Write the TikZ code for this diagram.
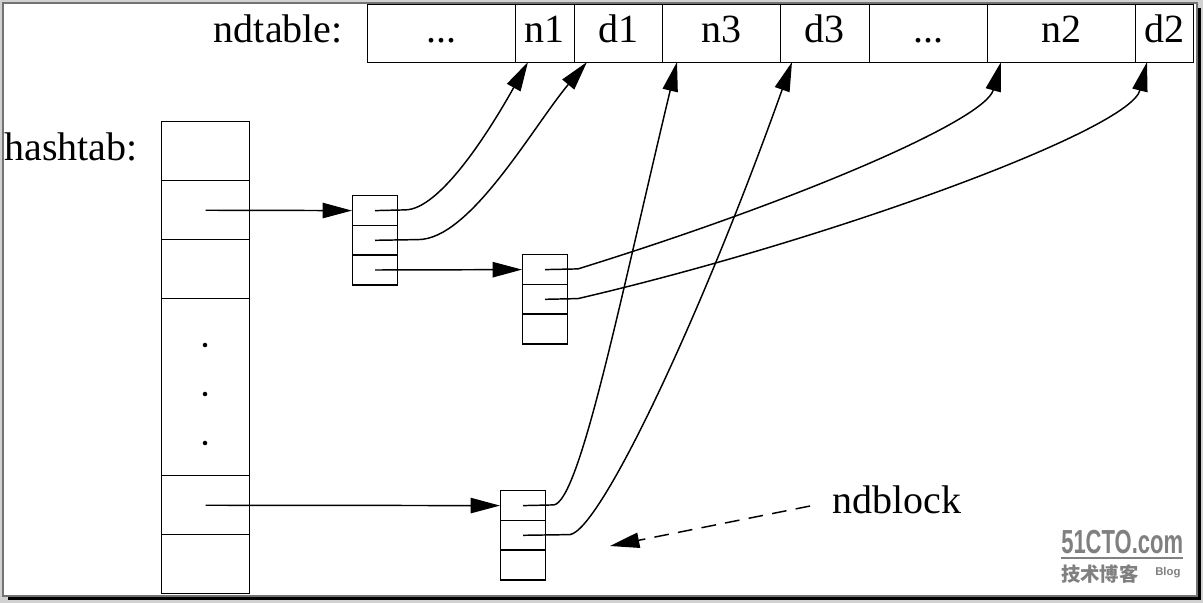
\documentclass[tikz,border=0pt]{standalone}
\usepackage{fontspec}
\setmainfont{Liberation Serif}
\newfontfamily\cjk{Noto Sans CJK SC}
\newfontfamily\wmsans{Liberation Sans}
\usetikzlibrary{arrows.meta}
\tikzset{
  txt/.style={font=\fontsize{30}{36}\selectfont, inner sep=0pt},
  cellbox/.style={draw, line width=1.1pt, inner sep=0pt, anchor=north west},
  ptr/.style={line width=1.1pt, -{Triangle[length=22pt,width=11.5pt]}},
  wm/.style={inner sep=0pt, text=black!50, anchor=base west},
}
\begin{document}
\begin{tikzpicture}[x=0.75pt, y=-0.75pt]
\useasboundingbox (0,0) rectangle (1203,603);
% frame
\fill[black!18] (0,0) rectangle (1203,603);
\fill[black] (8,8) rectangle (1201,599.5);
\filldraw[fill=white, draw=black!55, line width=0.8pt] (3,3) rectangle (1197,596);

% ndtable
\node[txt, anchor=base east] (ndt) at (343,42) {ndtable:};
\node[cellbox, minimum width=111pt,   minimum height=43.5pt] (t1) at (367,4) {};
\node[cellbox, minimum width=44.25pt, minimum height=43.5pt] (t2) at (515,4) {};
\node[cellbox, minimum width=66pt,    minimum height=43.5pt] (t3) at (574,4) {};
\node[cellbox, minimum width=88.5pt,  minimum height=43.5pt] (t4) at (662,4) {};
\node[cellbox, minimum width=66.75pt, minimum height=43.5pt] (t5) at (780,4) {};
\node[cellbox, minimum width=88.5pt,  minimum height=43.5pt] (t6) at (869,4) {};
\node[cellbox, minimum width=111pt,   minimum height=43.5pt] (t7) at (987,4) {};
\node[cellbox, minimum width=43.5pt,  minimum height=43.5pt] (t8) at (1135,4) {};
\node[txt, anchor=base] (l1) at (441,42) {...};
\node[txt, anchor=base] (l2) at (544.5,42) {n1};
\node[txt, anchor=base] (l3) at (618,42) {d1};
\node[txt, anchor=base] (l4) at (721,42) {n3};
\node[txt, anchor=base] (l5) at (824.5,42) {d3};
\node[txt, anchor=base] (l6) at (928,42) {...};
\node[txt, anchor=base] (l7) at (1061,42) {n2};
\node[txt, anchor=base] (l8) at (1164,42) {d2};

% hashtab
\node[txt, anchor=base west] (ht) at (4,160) {hashtab:};
\node[cellbox, minimum width=66pt, minimum height=44.25pt] (h1) at (161,121) {};
\node[cellbox, minimum width=66pt, minimum height=44.25pt] (h2) at (161,180) {};
\node[cellbox, minimum width=66pt, minimum height=44.25pt] (h3) at (161,239) {};
\node[cellbox, minimum width=66pt, minimum height=132.75pt] (h4) at (161,298) {};
\node[cellbox, minimum width=66pt, minimum height=44.25pt] (h5) at (161,475) {};
\node[cellbox, minimum width=66pt, minimum height=44.25pt] (h6) at (161,534) {};
\fill (205,345) circle[radius=1.7pt];
\fill (205,394) circle[radius=1.7pt];
\fill (205,443) circle[radius=1.7pt];

% small blocks
\node[cellbox, minimum width=33.4pt, minimum height=22.3pt] (b1a) at (352,195) {};
\node[cellbox, minimum width=33.4pt, minimum height=22.3pt] (b1b) at (352,224.7) {};
\node[cellbox, minimum width=33.4pt, minimum height=22.3pt] (b1c) at (352,254.4) {};
\node[cellbox, minimum width=33.4pt, minimum height=22.3pt] (b2a) at (522,254) {};
\node[cellbox, minimum width=33.4pt, minimum height=22.3pt] (b2b) at (522,283.7) {};
\node[cellbox, minimum width=33.4pt, minimum height=22.3pt] (b2c) at (522,313.4) {};
\node[cellbox, minimum width=33.4pt, minimum height=22.3pt] (b3a) at (500,490) {};
\node[cellbox, minimum width=33.4pt, minimum height=22.3pt] (b3b) at (500,519.7) {};
\node[cellbox, minimum width=33.4pt, minimum height=22.3pt] (b3c) at (500,549.4) {};

% tips on ndtable
\coordinate (tn1) at (528,62);
\coordinate (td1) at (587,62);
\coordinate (tn3) at (677,62);
\coordinate (td3) at (792,62);
\coordinate (tn2) at (1001,62);
\coordinate (td2) at (1147,62);

% straight pointers
\draw[ptr] (h2.center) -- (b1a.west);
\draw[ptr] (b1c.center) -- (b2a.west);
\draw[ptr] (h5.center) -- (b3a.west);

% curved pointers
\draw[ptr] (b1a.center) -- (405,209.9) .. controls (440,209.9) and (490,130) .. (tn1);
\draw[ptr] (b1b.center) -- (418,239.6) .. controls (470,239.6) and (532,128) .. (td1);
\draw[ptr] (b2a.center) -- (578,268.9) .. controls (800,200) and (985,120) .. (tn2);
\draw[ptr] (b2b.center) -- (578,298.6) .. controls (830,240) and (1130,130) .. (td2);
\draw[ptr] (b3a.center) -- (554,504.9) .. controls (580,500) and (620,300) .. (tn3);
\draw[ptr] (b3b.center) -- (570,534.6) .. controls (600,530) and (700,320) .. (td3);

% ndblock label
\node[txt, anchor=base west] (ndb) at (832,513) {ndblock};
\coordinate (dstart) at (810,506);
\coordinate (dtip) at (610,546);
\draw[ptr, dash pattern=on 11pt off 7pt] (dstart) -- (dtip);

% watermark
\node[wm] (wm1) at (1061,553) {\scalebox{0.66}[1]{\wmsans\bfseries\fontsize{25}{27}\selectfont 51CTO.com}};
\draw[black!50, line width=1.5pt] (1061,557.5) -- (1183,557.5);
\node[wm] (wm2) at (1061,581) {\cjk\bfseries\fontsize{14.5}{16}\selectfont 技术博客};
\node[wm] (wm3) at (1155,575) {\wmsans\bfseries\fontsize{8.5}{10}\selectfont Blog};
\end{tikzpicture}
\end{document}
